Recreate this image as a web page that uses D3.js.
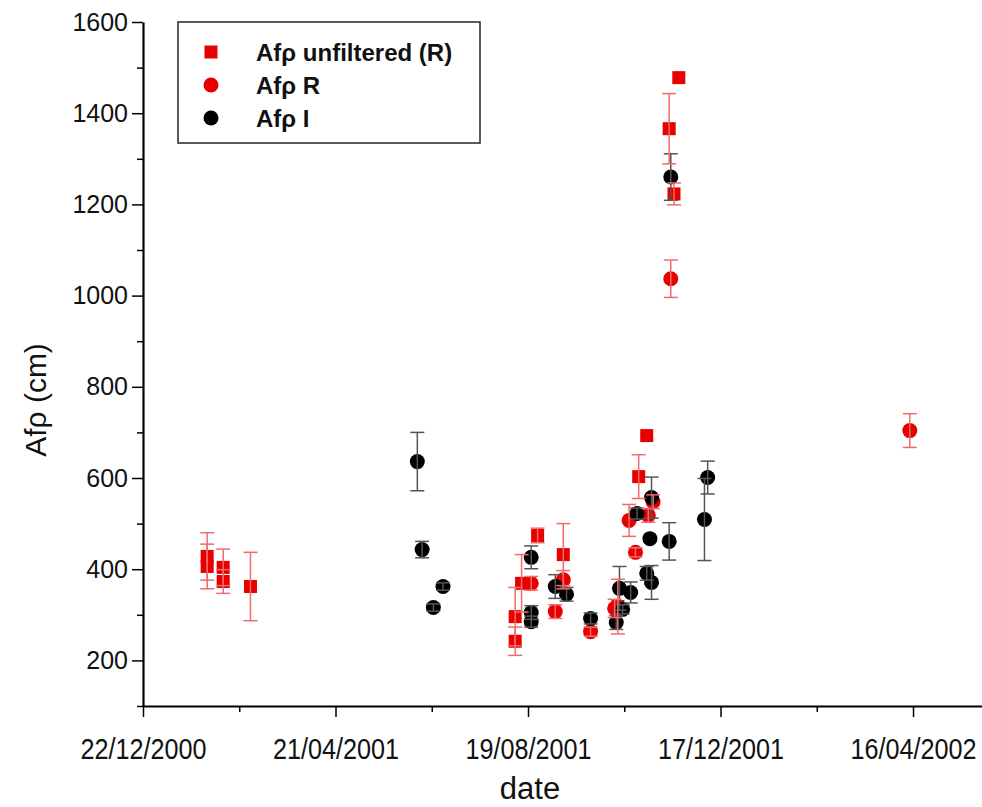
<!DOCTYPE html>
<html>
<head>
<meta charset="utf-8">
<script src="https://cdn.jsdelivr.net/npm/d3@7"></script>
<style>
  html, body { margin: 0; padding: 0; background: #fff; }
  svg { display: block; font-family: Arial, "Liberation Sans", sans-serif; }
</style>
</head>
<body>
<svg id="chart" width="982" height="807"></svg>
<script>
// ---------------- DATA ----------------
// Afρ unfiltered (R)  (red squares)
const unfDates  = ["2001-01-31","2001-01-31","2001-02-10","2001-02-10","2001-02-27",
                   "2001-08-11","2001-08-11","2001-08-15","2001-08-25","2001-09-10",
                   "2001-10-14","2001-10-27","2001-11-01","2001-11-15","2001-11-18","2001-11-21"];
const unfValues = [428, 406, 404, 373, 362,
                   242, 296, 369, 474, 432,
                   318, 603, 693, 1366, 1223, 1478];
const unfErrors = [52, 49, 40, 26, 75,
                   31, 64, 63, 16, 68,
                   60, 48, 0, 77, 24, 0];

// Afρ R  (red circles)
const rDates  = ["2001-08-21","2001-09-05","2001-09-10","2001-09-27","2001-10-12",
                 "2001-10-21","2001-10-25","2001-11-02","2001-11-05","2001-11-16","2002-04-14"];
const rValues = [369, 307, 377, 263, 314, 507, 437, 518, 548, 1037, 704];
const rErrors = [15, 15, 20, 10, 20, 35, 10, 15, 15, 41, 37];

// Afρ I  (black circles)
const iDates  = ["2001-06-11","2001-06-14","2001-06-21","2001-06-27",
                 "2001-08-21","2001-08-21","2001-08-21","2001-09-05","2001-09-12","2001-09-27",
                 "2001-10-15","2001-10-13","2001-10-17","2001-10-22","2001-10-26",
                 "2001-11-01","2001-11-03","2001-11-04","2001-11-04","2001-11-15","2001-11-16",
                 "2001-12-07","2001-12-09"];
const iValues = [636, 443, 316, 362,
                 426, 305, 285, 362, 345, 292,
                 358, 283, 312, 349, 522,
                 391, 467, 371, 557, 461, 1260,
                 509, 601];
const iErrors = [64, 18, 8, 8,
                 25, 15, 12, 26, 15, 12,
                 48, 15, 10, 23, 12,
                 15, 0, 37, 45, 41, 51,
                 90, 36];

const xTickLabels = ["22/12/2000","21/04/2001","19/08/2001","17/12/2001","16/04/2002"];
const yTickValues = [200, 400, 600, 800, 1000, 1200, 1400, 1600];
const legendLabels = ["Afρ unfiltered (R)", "Afρ R", "Afρ I"];

// ---------------- LAYOUT ----------------
const svg = d3.select("#chart");
const mLeft = 143, mTop = 22, mBottom = 706, mRight = 982;
const parseISO = d3.utcParse("%Y-%m-%d");
const parseDMY = d3.utcParse("%d/%m/%Y");
const DAY = 86400000;

const xStart = parseDMY(xTickLabels[0]);
const xEnd = new Date(xStart.getTime() + 523 * DAY);
const x = d3.scaleUtc().domain([xStart, xEnd]).range([mLeft, mRight]);
const y = d3.scaleLinear().domain([100, 1600]).range([mBottom, mTop]);

const RED = "#e60000";
const RED_ERR = "#f26a6a";
const BLK = "#000";
const BLK_ERR = "#555";

// ---------------- AXES ----------------
const xMajor = xTickLabels.map(parseDMY);
const xMinor = [];
for (let i = 0; i < xMajor.length; i++) {
  const t = new Date(xMajor[i].getTime() + 60 * DAY);
  if (t <= xEnd) xMinor.push(t);
}
const yMinor = [];
for (let v = 100; v <= 1500; v += 200) yMinor.push(v);

// minor ticks
svg.append("g").attr("transform", `translate(0,${mBottom})`)
  .call(d3.axisBottom(x).tickValues(xMinor).tickSize(6).tickFormat(""))
  .call(g => g.select(".domain").remove())
  .call(g => g.selectAll("line").attr("stroke", "#000").attr("stroke-width", 1.5));
svg.append("g").attr("transform", `translate(${mLeft},0)`)
  .call(d3.axisLeft(y).tickValues(yMinor).tickSize(6).tickFormat(""))
  .call(g => g.select(".domain").remove())
  .call(g => g.selectAll("line").attr("stroke", "#000").attr("stroke-width", 1.5));

// major x axis
const fmt = d3.utcFormat("%d/%m/%Y");
const gx = svg.append("g").attr("transform", `translate(0,${mBottom})`)
  .call(d3.axisBottom(x).tickValues(xMajor).tickSize(11).tickSizeOuter(0).tickFormat(fmt));
gx.select(".domain").attr("stroke", "#000").attr("stroke-width", 2.2);
gx.selectAll(".tick line").attr("stroke", "#000").attr("stroke-width", 1.5);
gx.selectAll(".tick text")
  .attr("font-size", 28).attr("fill", "#111").attr("font-family", "Arial, 'Liberation Sans', sans-serif")
  .attr("y", 0).attr("dy", 0)
  .attr("transform", "translate(0,53) scale(0.9,1.05)");

// major y axis
const gy = svg.append("g").attr("transform", `translate(${mLeft},0)`)
  .call(d3.axisLeft(y).tickValues(yTickValues).tickSize(11).tickSizeOuter(0).tickFormat(d3.format("d")));
gy.select(".domain").attr("stroke", "#000").attr("stroke-width", 2.2);
gy.selectAll(".tick line").attr("stroke", "#000").attr("stroke-width", 1.5);
gy.selectAll(".tick text").attr("font-size", 25).attr("fill", "#111").attr("x", -15)
  .attr("font-family", "Arial, 'Liberation Sans', sans-serif");

// axis titles
svg.append("text").attr("x", 530).attr("y", 799).attr("text-anchor", "middle")
  .attr("font-size", 31).attr("fill", "#111").text("date");
svg.append("text").attr("transform", "translate(46,400) rotate(-90)")
  .attr("text-anchor", "middle").attr("font-size", 30).attr("fill", "#111").text("Afρ (cm)");

// ---------------- DATA MARKS ----------------
function mk(dates, values, errors) {
  return dates.map((d, i) => ({ date: parseISO(d), v: values[i], e: errors[i] }));
}
const unf = mk(unfDates, unfValues, unfErrors);
const rr = mk(rDates, rValues, rErrors);
const ii = mk(iDates, iValues, iErrors);

const plot = svg.append("g");
const SQ = 13, RAD = 7.5, CAP = 7;

plot.append("g").selectAll("rect").data(unf).join("rect")
  .attr("x", d => x(d.date) - SQ / 2).attr("y", d => y(d.v) - SQ / 2)
  .attr("width", SQ).attr("height", SQ).attr("fill", RED);
plot.append("g").selectAll("circle").data(rr).join("circle")
  .attr("cx", d => x(d.date)).attr("cy", d => y(d.v)).attr("r", RAD).attr("fill", RED);
plot.append("g").selectAll("circle").data(ii).join("circle")
  .attr("cx", d => x(d.date)).attr("cy", d => y(d.v)).attr("r", RAD).attr("fill", BLK);

function errBars(data, color) {
  const g = plot.append("g").attr("stroke", color).attr("stroke-width", 1.5).attr("fill", "none");
  const dd = data.filter(d => d.e > 0);
  g.selectAll("line.v").data(dd).join("line").attr("class", "v")
    .attr("x1", d => x(d.date)).attr("x2", d => x(d.date))
    .attr("y1", d => y(d.v + d.e)).attr("y2", d => y(d.v - d.e));
  g.selectAll("line.t").data(dd).join("line").attr("class", "t")
    .attr("x1", d => x(d.date) - CAP).attr("x2", d => x(d.date) + CAP)
    .attr("y1", d => y(d.v + d.e)).attr("y2", d => y(d.v + d.e));
  g.selectAll("line.b").data(dd).join("line").attr("class", "b")
    .attr("x1", d => x(d.date) - CAP).attr("x2", d => x(d.date) + CAP)
    .attr("y1", d => y(d.v - d.e)).attr("y2", d => y(d.v - d.e));
}
errBars(ii, BLK_ERR);
errBars(unf, RED_ERR);
errBars(rr, RED_ERR);

// ---------------- LEGEND ----------------
const lg = svg.append("g");
lg.append("rect").attr("x", 178).attr("y", 22).attr("width", 302).attr("height", 121)
  .attr("fill", "#fff").attr("stroke", "#333").attr("stroke-width", 1.6);
const rowsY = [52, 85, 118];
lg.append("rect").attr("x", 211 - 6.5).attr("y", rowsY[0] - 6.5).attr("width", 13).attr("height", 13).attr("fill", RED);
lg.append("circle").attr("cx", 211).attr("cy", rowsY[1]).attr("r", 7.5).attr("fill", RED);
lg.append("circle").attr("cx", 211).attr("cy", rowsY[2]).attr("r", 7.5).attr("fill", BLK);
lg.selectAll("text").data(legendLabels).join("text")
  .attr("x", 256).attr("y", (d, i) => rowsY[i]).attr("dy", "0.36em")
  .attr("font-size", 24).attr("font-weight", "bold").attr("fill", "#111").text(d => d);
</script>
</body>
</html>
